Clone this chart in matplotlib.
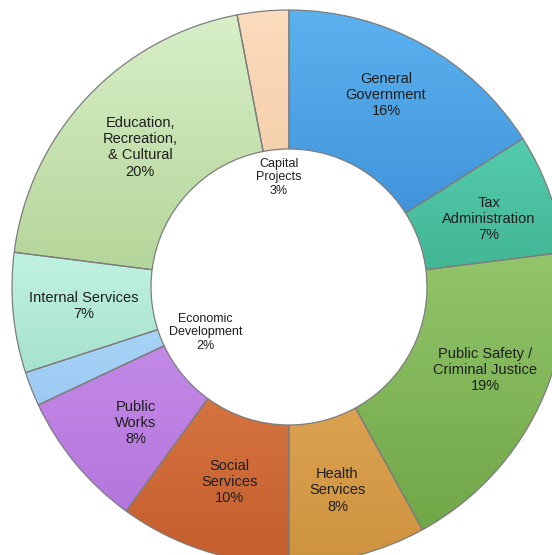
import numpy as np
import matplotlib.pyplot as plt
from matplotlib.colors import LinearSegmentedColormap

# budget shares, clockwise from 12 o'clock
categories = [
    "General\nGovernment",
    "Tax\nAdministration",
    "Public Safety /\nCriminal Justice",
    "Health\nServices",
    "Social\nServices",
    "Public\nWorks",
    "Economic\nDevelopment",
    "Internal Services",
    "Education,\nRecreation,\n& Cultural",
    "Capital\nProjects",
]
shares = [16, 7, 19, 8, 10, 8, 2, 7, 20, 3]

# light (top) and dark (bottom) shade of each slice
top_colors = ["#5cb2ef", "#55ccae", "#93c56b", "#e3ad60", "#e0824f",
              "#c890ea", "#aed8fa", "#c0f2e2", "#d8efc8", "#fbdcbd"]
bottom_colors = ["#3789d3", "#3fb391", "#70a747", "#cf933e", "#c45e2c",
                 "#b476dc", "#9ccaf2", "#a6e2cd", "#b2d496", "#f0c59c"]

CX, CY = 289, 268      # donut centre (pixels, y up)
R_OUT, RING = 277, 139

fig = plt.figure(figsize=(5.52, 5.55), dpi=100)
ax = fig.add_axes([0, 0, 1, 1])

wedges, _ = ax.pie(shares, radius=R_OUT, center=(CX, CY), startangle=90,
                   counterclock=False,
                   wedgeprops=dict(width=RING, linewidth=0.9, edgecolor="#7d7d7d"))

grad = np.linspace(0, 1, 256).reshape(-1, 1)
for w, c_top, c_bot in zip(wedges, top_colors, bottom_colors):
    verts = w.get_path().vertices
    x0, y0 = verts.min(axis=0)
    x1, y1 = verts.max(axis=0)
    cmap = LinearSegmentedColormap.from_list("shade", [c_bot, c_top])
    im = ax.imshow(grad, cmap=cmap, origin="lower", aspect="auto",
                   extent=(x0, x1, y0, y1), zorder=1.5, interpolation="bilinear")
    im.set_clip_path(w)
    w.set_zorder(2)
    w.set_facecolor("none")

# label placement: distance from centre and angular nudge (degrees)
label_r = [215, 211, 213, 209, 204, 205, 95, 206, 204, 110]
label_nudge = [-2, 1, -4, 1, -1, -2, -7, 0, 0, 0]
small = {"Capital\nProjects", "Economic\nDevelopment"}

cum = np.cumsum([0] + shares)
total = sum(shares)
for i, (name, val) in enumerate(zip(categories, shares)):
    mid = np.deg2rad((cum[i] + val / 2) / total * 360 + label_nudge[i])
    x = CX + label_r[i] * np.sin(mid)
    y = CY + label_r[i] * np.cos(mid)
    size = 9 if name in small else 10.5
    ax.text(x, y, f"{name}\n{val}%", ha="center", va="center", fontsize=size,
            family="Liberation Sans", color="#1e1e1e", linespacing=1.2, zorder=3)

ax.set_xlim(0, 552)
ax.set_ylim(0, 555)
ax.set_aspect("equal")
ax.axis("off")

fig.savefig("out.png", dpi=100)
